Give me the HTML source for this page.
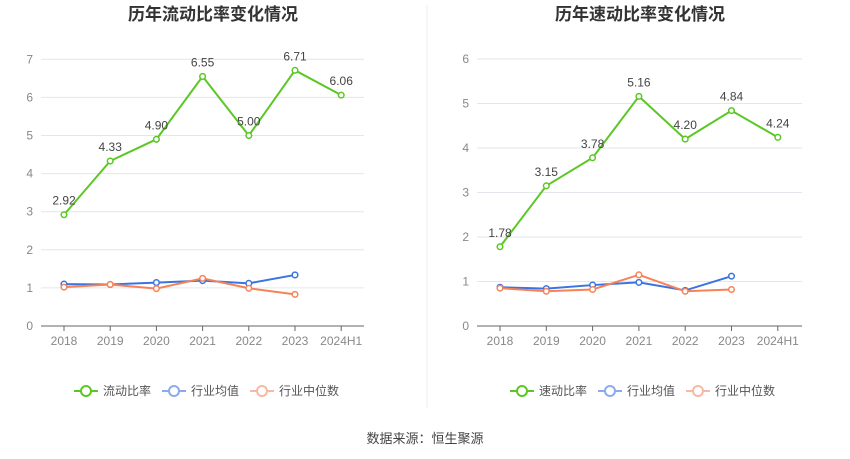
<!DOCTYPE html>
<html><head><meta charset="utf-8"><style>
body{margin:0;background:#fff;width:850px;height:459px;overflow:hidden;font-family:"Liberation Sans","Noto Sans CJK SC",sans-serif}
svg{position:absolute;left:0;top:0}
</style></head><body>
<svg width="850" height="459">
<line x1="427" y1="5" x2="427" y2="408" stroke="#eee"/>
<g id="c1"></g>
<g id="c2"></g>
<text x="425" y="443" text-anchor="middle" font-size="13" fill="#444">数据来源：恒生聚源</text>
</svg>
<script>
const categories=["2018","2019","2020","2021","2022","2023","2024H1"];
const currentRatio=[2.92,4.33,4.90,6.55,5.00,6.71,6.06];
const currentAvg=[1.10,1.09,1.14,1.19,1.12,1.34];
const currentMedian=[1.02,1.09,0.98,1.25,0.99,0.83];
const quickRatio=[1.78,3.15,3.78,5.16,4.20,4.84,4.24];
const quickAvg=[0.87,0.84,0.92,0.98,0.80,1.12];
const quickMedian=[0.85,0.78,0.82,1.15,0.78,0.82];
const ticks1=[0,1,2,3,4,5,6,7];
const ticks2=[0,1,2,3,4,5,6];
const NS="http://www.w3.org/2000/svg";
function mk(p,t,a,txt){const e=document.createElementNS(NS,t);for(const k in a)e.setAttribute(k,a[k]);if(txt!==undefined)e.textContent=txt;p.appendChild(e);return e;}
function draw(g,o){
 const x=i=>o.x0+i*o.step, y=v=>326-v*o.ppu;
 const t=mk(g,'text',{x:o.cx,y:20,'text-anchor':'middle','font-size':17,'font-weight':'bold',fill:'#333'},o.title);
 
 o.ticks.forEach(v=>{
  if(v>0){const l=mk(g,'line',{x1:o.ax0,x2:o.ax1,y1:y(v),y2:y(v),stroke:'#e3e6ee'});}
  const tl=mk(g,'text',{x:o.ax0-8,y:y(v)+4,'text-anchor':'end','font-size':12,fill:'#888'},v);
  
 });
 const ax=mk(g,'line',{x1:o.ax0,x2:o.ax1,y1:326,y2:326,stroke:'#666'});
 categories.forEach((c,i)=>{
  mk(g,'line',{x1:x(i),x2:x(i),y1:326,y2:331,stroke:'#666'});
  const tl=mk(g,'text',{x:x(i),y:345,'text-anchor':'middle','font-size':12,fill:'#888'},c);
  
 });
 const series=[[o.avg,'#3a74e0','industry-average'],[o.med,'#f58258','industry-median'],[o.main,'#5ac724','main-ratio']];
 series.forEach(([d,col,name])=>{
  const pl=mk(g,'polyline',{points:d.map((v,i)=>x(i)+','+y(v)).join(' '),fill:'none',stroke:col,'stroke-width':2});
  
  d.forEach((v,i)=>{const c=mk(g,'circle',{cx:x(i),cy:y(v),r:2.8,fill:'#fff',stroke:col,'stroke-width':1.5});
   });
 });
 o.main.forEach((v,i)=>{const l=mk(g,'text',{x:x(i),y:y(v)-10,'text-anchor':'middle','font-size':12,fill:'#444'},v.toFixed(2));
  });
 const leg=[[o.mainName,'#5ac724'],['行业均值','#8aabef'],['行业中位数','#f8b9a2']];
 let lx=o.legX;
 leg.forEach(([n,col])=>{
  const lg=mk(g,'g',{});
  mk(lg,'line',{x1:lx,x2:lx+24,y1:391,y2:391,stroke:col,'stroke-width':2});
  mk(lg,'circle',{cx:lx+12,cy:391,r:5,fill:'#fff',stroke:col,'stroke-width':2});
  mk(lg,'text',{x:lx+29,y:395,'font-size':12,fill:'#555'},n);
  lx+=29+n.length*12+11;
 });
}
draw(document.getElementById('c1'),{title:'历年流动比率变化情况',cx:213,x0:64,step:46.2,ax0:41,ax1:364,ppu:38.1,ticks:ticks1,main:currentRatio,avg:currentAvg,med:currentMedian,mainName:'流动比率',legX:74});
draw(document.getElementById('c2'),{title:'历年速动比率变化情况',cx:640,x0:500,step:46.3,ax0:477,ax1:802,ppu:44.5,ticks:ticks2,main:quickRatio,avg:quickAvg,med:quickMedian,mainName:'速动比率',legX:510});
</script>
</body></html>
